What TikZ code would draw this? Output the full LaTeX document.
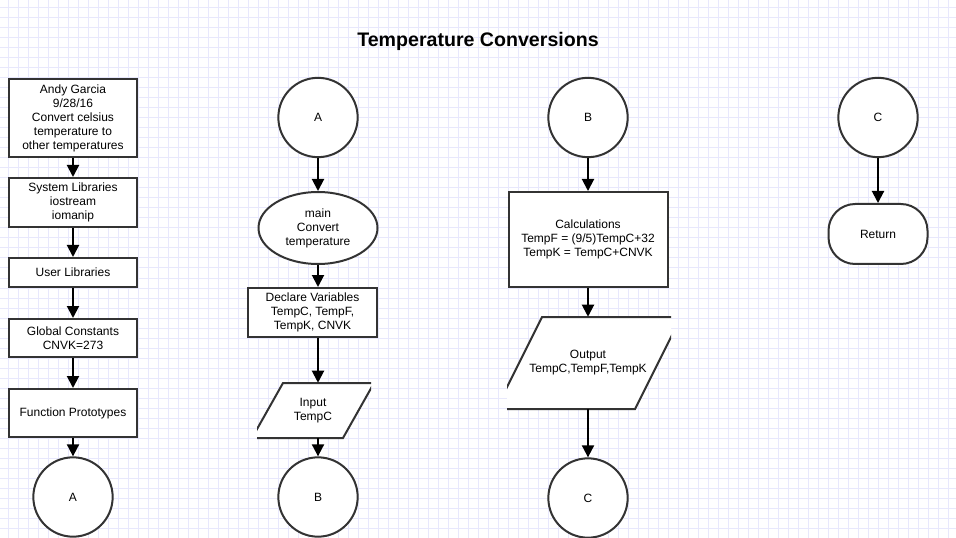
\documentclass[tikz,border=0pt]{standalone}
\usepackage{fontspec}
\setmainfont{Liberation Sans}
\usetikzlibrary{positioning,shapes.geometric,arrows.meta}
\definecolor{gridblue}{RGB}{232,232,252}
\definecolor{edgegray}{RGB}{51,51,51}
\tikzset{
  stepbox/.style={rectangle,draw=edgegray,fill=white,line width=1.5pt,align=center,inner sep=1pt,font=\fontsize{9}{10.5}\selectfont},
  connector/.style={circle,draw=edgegray,fill=white,line width=1.5pt,minimum size=59.5pt,inner sep=0pt,font=\fontsize{9}{10.5}\selectfont},
  iotext/.style={rectangle,align=center,inner sep=0pt,font=\fontsize{9}{10.5}\selectfont},
  ioshape/.style={draw=edgegray,fill=white,line width=1.5pt},
  flowarr/.style={line width=1.5pt,-{Triangle[length=9pt,width=9pt]}},
  gridline/.style={draw=gridblue,line width=0.75pt}
}

\begin{document}
\begin{tikzpicture}[x=0.75pt,y=-0.75pt]
  \useasboundingbox (0,0) rectangle (956,538);
  % background grid
  \foreach \gx in {8,18,...,948} \draw[gridline] (\gx,0) -- (\gx,538);
  \foreach \gy in {8,18,...,538} \draw[gridline] (0,\gy) -- (956,\gy);

  \node[font=\bfseries\fontsize{14.7}{17}\selectfont] (title) at (478,41.5) {Temperature Conversions};

  % column 1
  \node[stepbox,minimum width=96pt,minimum height=58.5pt] (header) at (73,118) {Andy Garcia\\9/28/16\\Convert celsius\\temperature to\\other temperatures};
  \node[stepbox,minimum width=96pt,minimum height=36.75pt] (syslib) at (73,202.5) {System Libraries\\iostream\\iomanip};
  \node[stepbox,minimum width=96pt,minimum height=21.75pt] (userlib) at (73,272.5) {User Libraries};
  \node[stepbox,minimum width=96pt,minimum height=28.5pt] (globals) at (73,338) {Global Constants\\CNVK=273};
  \node[stepbox,minimum width=96pt,minimum height=36pt] (protos) at (73,413) {Function Prototypes};
  \node[connector] (outA) at (73,497) {A};
  \draw[flowarr] (header) -- (syslib);
  \draw[flowarr] (syslib) -- (userlib);
  \draw[flowarr] (userlib) -- (globals);
  \draw[flowarr] (globals) -- (protos);
  \draw[flowarr] (protos) -- (outA);

  % column 2
  \node[connector] (inA) at (318,117.5) {A};
  \node[ellipse,draw=edgegray,fill=white,line width=1.5pt,minimum width=89.25pt,minimum height=54pt,inner sep=0pt,align=center,font=\fontsize{9}{10.5}\selectfont] (main) at (318,228) {main\\Convert\\temperature};
  \node[stepbox,minimum width=96.75pt,minimum height=36.75pt] (declare) at (312.5,312.5) {Declare Variables\\TempC, TempF,\\TempK, CNVK};
  \begin{scope}
    \clip (257,370) rectangle (371,445);
    \draw[ioshape] (283,383) -- (374,383) -- (343,438) -- (252,438) -- cycle;
  \end{scope}
  \node[iotext,minimum height=41.25pt] (input) at (313,410.5) {Input\\TempC};
  \node[connector] (outB) at (318,497) {B};
  \draw[flowarr] (inA) -- (main);
  \draw[flowarr] (main) -- (declare.north -| main);
  \draw[flowarr] (declare.south -| main) -- (input.north -| main);
  \draw[flowarr] (input.south -| outB) -- (outB);

  % column 3
  \node[connector] (inB) at (588,117.5) {B};
  \node[stepbox,minimum width=119.25pt,minimum height=71.25pt] (calc) at (588,239.5) {Calculations\\TempF = (9/5)TempC+32\\TempK = TempC+CNVK};
  \begin{scope}
    \clip (507,305) rectangle (671,420);
    \draw[ioshape] (542,317) -- (681,317) -- (635,409) -- (496,409) -- cycle;
  \end{scope}
  \node[iotext,minimum height=69pt] (output) at (588,363) {Output\\TempC,TempF,TempK};
  \node[connector] (outC) at (588,498) {C};
  \draw[flowarr] (inB) -- (calc);
  \draw[flowarr] (calc) -- (output.north -| calc);
  \draw[flowarr] (output.south -| outC) -- (outC);

  % column 4
  \node[connector] (inC) at (878,117.5) {C};
  \node[stepbox,rounded corners=20pt,minimum width=74.25pt,minimum height=45pt] (ret) at (878,234) {Return};
  \draw[flowarr] (inC) -- (ret);
\end{tikzpicture}
\end{document}
